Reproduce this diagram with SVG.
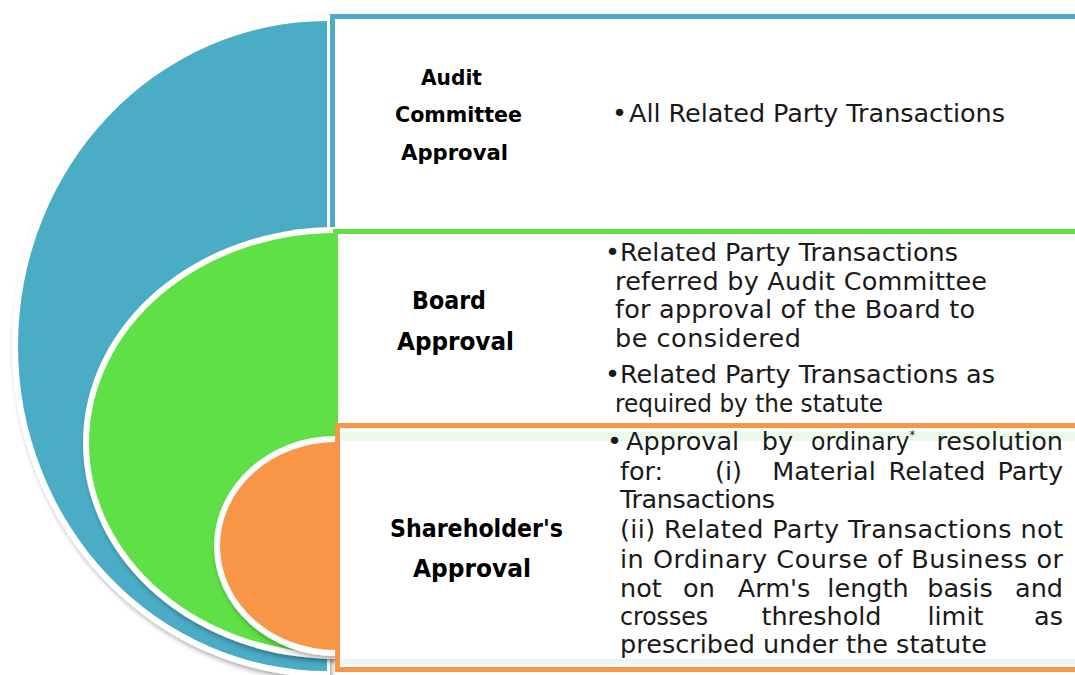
<svg xmlns="http://www.w3.org/2000/svg" width="1075" height="675" viewBox="0 0 1075 675">
<defs>
<filter id="sh" x="-10%" y="-10%" width="130%" height="130%">
<feDropShadow dx="2" dy="3" stdDeviation="2.5" flood-color="#000" flood-opacity="0.35"/>
</filter>
</defs>
<style>
.ring{fill:#fff;filter:url(#sh)}
.box{fill:#fff;stroke-width:5}
.lbl{font-family:"DejaVu Sans",sans-serif;font-weight:bold;fill:#000;text-anchor:middle}
.txt{font-family:"DejaVu Sans",sans-serif;font-size:25.5px;fill:#1a1a1a}
.m{text-anchor:middle}
.e{text-anchor:end}
</style>
<rect width="1075" height="675" fill="#fff"/>

<g id="audit">
<path class="ring" d="M330,15 L327,15 A315,331 0 0 0 327,677 L330,677 Z"/>
<path d="M327,21 A309,325 0 0 0 327,671 Z" fill="#4BACC6"/>
<rect class="box" x="332.5" y="16.5" width="760" height="240" stroke="#4BACC6"/>
<text class="lbl" font-size="21.5" x="451.5" y="85" textLength="61" lengthAdjust="spacingAndGlyphs">Audit</text>
<text class="lbl" font-size="21.5" x="458.5" y="122" textLength="127" lengthAdjust="spacingAndGlyphs">Committee</text>
<text class="lbl" font-size="21.5" x="454.5" y="160" textLength="107" lengthAdjust="spacingAndGlyphs">Approval</text>
<text class="txt" x="612" y="122">•</text>
<text class="txt" x="629" y="122" textLength="376">All Related Party Transactions</text>
</g>

<g id="board">
<path class="ring" d="M336,227 A253,216 0 0 0 336,659 Z"/>
<path d="M336,233 A247,210 0 0 0 336,653 Z" fill="#5FE046"/>
<rect class="box" x="335.5" y="231.5" width="760" height="220" stroke="#5FE046"/>
<text class="lbl" font-size="24" x="449" y="309" textLength="74" lengthAdjust="spacingAndGlyphs">Board</text>
<text class="lbl" font-size="24" x="455.5" y="350" textLength="117" lengthAdjust="spacingAndGlyphs">Approval</text>
<text class="txt" x="605" y="261">•</text>
<text class="txt" x="620" y="261" textLength="338">Related Party Transactions</text>
<text class="txt" x="615" y="290" textLength="372">referred by Audit Committee</text>
<text class="txt" x="615" y="318" textLength="360">for approval of the Board to</text>
<text class="txt" x="615" y="347" textLength="186">be considered</text>
<text class="txt" x="605" y="383">•</text>
<text class="txt" x="620" y="383" textLength="375">Related Party Transactions as</text>
<text class="txt" x="615" y="412" textLength="268" lengthAdjust="spacingAndGlyphs">required by the statute</text>
</g>

<g id="shareholder">
<path class="ring" d="M336,436 A122,110 0 0 0 336,656 Z"/>
<path d="M336,442 A116,104 0 0 0 336,650 Z" fill="#F79646"/>
<rect class="box" x="337.5" y="425.5" width="760" height="244" stroke="#F79646"/>
<rect x="340" y="432" width="735" height="9" fill="#EEF9EC"/>
<rect x="340" y="659" width="735" height="6" fill="#EDF5F7"/>
<text class="lbl" font-size="24" x="476.5" y="537" textLength="173" lengthAdjust="spacingAndGlyphs">Shareholder's</text>
<text class="lbl" font-size="24" x="472" y="577" textLength="118" lengthAdjust="spacingAndGlyphs">Approval</text>
<text class="txt" x="607" y="450">•</text>
<text class="txt" x="626" y="450">Approval</text>
<text class="txt m" x="777.5" y="450">by</text>
<text class="txt" x="811" y="450" textLength="104" lengthAdjust="spacingAndGlyphs">ordinary<tspan font-size="12" dy="-11">*</tspan></text>
<text class="txt e" x="1063" y="450">resolution</text>
<text class="txt" x="620" y="480">for:</text>
<text class="txt m" x="728.5" y="480">(i)</text>
<text class="txt m" x="824" y="480">Material</text>
<text class="txt m" x="937" y="480">Related</text>
<text class="txt e" x="1063" y="480">Party</text>
<text class="txt" x="620" y="508" textLength="155">Transactions</text>
<text class="txt" x="620" y="538" textLength="443">(ii) Related Party Transactions not</text>
<text class="txt" x="620" y="568" textLength="443">in Ordinary Course of Business or</text>
<text class="txt" x="620" y="597">not</text>
<text class="txt m" x="699" y="597">on</text>
<text class="txt m" x="774" y="597">Arm's</text>
<text class="txt m" x="868" y="597">length</text>
<text class="txt m" x="960" y="597">basis</text>
<text class="txt e" x="1063" y="597">and</text>
<text class="txt" x="620" y="625" textLength="88" lengthAdjust="spacingAndGlyphs">crosses</text>
<text class="txt m" x="821.5" y="625">threshold</text>
<text class="txt m" x="955.5" y="625">limit</text>
<text class="txt e" x="1063" y="625">as</text>
<text class="txt" x="620" y="653" textLength="367">prescribed under the statute</text>
</g>

<g id="connectors"/>
</svg>
